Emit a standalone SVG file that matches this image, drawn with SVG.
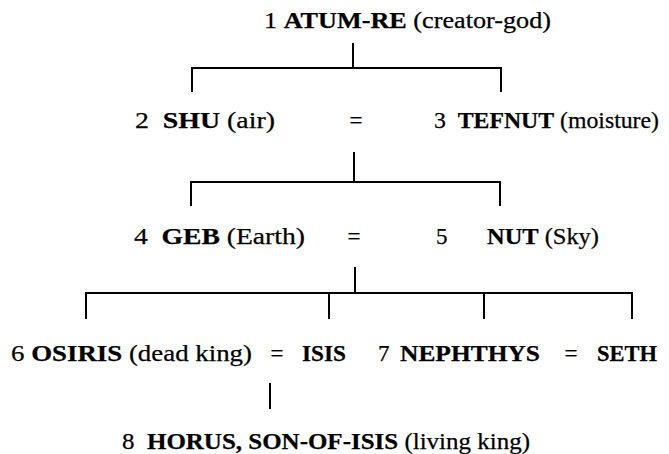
<svg xmlns="http://www.w3.org/2000/svg" width="669" height="454" viewBox="0 0 669 454">
<style>
text{font-family:"Liberation Serif","Tinos","Times New Roman","Times","Nimbus Roman","FreeSerif","DejaVu Serif",serif;font-size:23px;fill:#000;stroke:#000;stroke-width:0.25;white-space:pre}
.b{font-weight:bold}
.ln{stroke:#000;stroke-width:2;fill:none;stroke-linecap:square}
</style>
<rect width="669" height="454" fill="#fff"/>
<g id="connectors">
<path class="ln" d="M353,44V68M192,68H501M192,68V91M501,68V91"/>
<path class="ln" d="M354,153V182M191,182H500M191,182V205M500,182V205"/>
<path class="ln" d="M355,268V293M86,293H632M86,293V318M329,293V318M484,293V318M632,293V318"/>
<path class="ln" d="M270,384V408"/>
</g>
<g id="n1"><text x="264" y="28" textLength="287" lengthAdjust="spacingAndGlyphs">1 <tspan class="b">ATUM-RE</tspan> (creator-god)</text></g>
<g id="n2"><text x="135" y="128" textLength="140" lengthAdjust="spacingAndGlyphs">2  <tspan class="b">SHU</tspan> (air)</text></g>
<g id="eq1"><text x="356" y="128" text-anchor="middle">=</text></g>
<g id="n3"><text x="434" y="128" textLength="225" lengthAdjust="spacingAndGlyphs">3  <tspan class="b">TEFNUT</tspan> (moisture)</text></g>
<g id="n4"><text x="134" y="244" textLength="171" lengthAdjust="spacingAndGlyphs">4  <tspan class="b">GEB</tspan> (Earth)</text></g>
<g id="eq2"><text x="354" y="244" text-anchor="middle">=</text></g>
<g id="n5"><text x="436" y="244">5</text><text x="487" y="244" textLength="112" lengthAdjust="spacingAndGlyphs"><tspan class="b">NUT</tspan> (Sky)</text></g>
<g id="n6"><text x="11" y="361" textLength="241" lengthAdjust="spacingAndGlyphs">6 <tspan class="b">OSIRIS</tspan> (dead king)</text></g>
<g id="eq3"><text x="277" y="361" text-anchor="middle">=</text></g>
<g id="isis"><text x="302" y="361" class="b" textLength="44" lengthAdjust="spacingAndGlyphs">ISIS</text></g>
<g id="n7"><text x="378" y="361">7</text><text x="400" y="361" class="b" textLength="140" lengthAdjust="spacingAndGlyphs">NEPHTHYS</text></g>
<g id="eq4"><text x="571" y="361" text-anchor="middle">=</text></g>
<g id="seth"><text x="597" y="361" class="b" textLength="60" lengthAdjust="spacingAndGlyphs">SETH</text></g>
<g id="n8"><text x="122" y="449" textLength="408" lengthAdjust="spacingAndGlyphs">8  <tspan class="b">HORUS, SON-OF-ISIS</tspan> (living king)</text></g>
</svg>
